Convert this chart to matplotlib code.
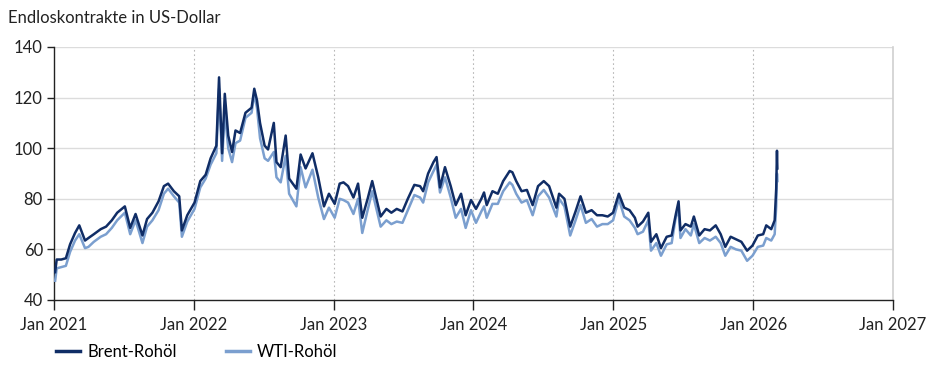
import matplotlib
matplotlib.use("Agg")
import matplotlib.pyplot as plt
import matplotlib.dates as mdates
import pandas as pd

plt.rcParams['font.family'] = ['Lato', 'DejaVu Sans']

dates = [
    "2021-01-04", "2021-01-08", "2021-01-20", "2021-02-01", "2021-02-12", "2021-02-25",
    "2021-03-08", "2021-03-23", "2021-04-01", "2021-04-15", "2021-05-03", "2021-05-17",
    "2021-06-01", "2021-06-15", "2021-07-05", "2021-07-19", "2021-08-02", "2021-08-20",
    "2021-09-01", "2021-09-15", "2021-10-01", "2021-10-15", "2021-10-26", "2021-11-10",
    "2021-11-24", "2021-12-01", "2021-12-15",
    "2022-01-03", "2022-01-18", "2022-02-01", "2022-02-14", "2022-03-01", "2022-03-08",
    "2022-03-16", "2022-03-23", "2022-04-01", "2022-04-11", "2022-04-20", "2022-05-02",
    "2022-05-16", "2022-06-01", "2022-06-08", "2022-06-15", "2022-06-23", "2022-07-05",
    "2022-07-14", "2022-07-29", "2022-08-05", "2022-08-16", "2022-08-29", "2022-09-07",
    "2022-09-26", "2022-10-07", "2022-10-20", "2022-11-07", "2022-11-22", "2022-12-07",
    "2022-12-20",
    "2023-01-04", "2023-01-17", "2023-01-27", "2023-02-08", "2023-02-22", "2023-03-06",
    "2023-03-17", "2023-03-31", "2023-04-12", "2023-04-26", "2023-05-04", "2023-05-19",
    "2023-06-01", "2023-06-15", "2023-06-30", "2023-07-14", "2023-07-31", "2023-08-15",
    "2023-08-23", "2023-09-05", "2023-09-19", "2023-09-27", "2023-10-06", "2023-10-19",
    "2023-11-03", "2023-11-16", "2023-11-30", "2023-12-12", "2023-12-26",
    "2024-01-08", "2024-01-22", "2024-01-29", "2024-02-05", "2024-02-20", "2024-03-05",
    "2024-03-19", "2024-04-05", "2024-04-12", "2024-04-22", "2024-05-06", "2024-05-20",
    "2024-06-04", "2024-06-18", "2024-07-03", "2024-07-17", "2024-08-05", "2024-08-12",
    "2024-08-26", "2024-09-10", "2024-09-24", "2024-10-07", "2024-10-21", "2024-11-05",
    "2024-11-19", "2024-12-03", "2024-12-17", "2024-12-31",
    "2025-01-15", "2025-01-29", "2025-02-12", "2025-02-26", "2025-03-05", "2025-03-19",
    "2025-04-02", "2025-04-09", "2025-04-23", "2025-05-05", "2025-05-20", "2025-06-02",
    "2025-06-13", "2025-06-20", "2025-06-25", "2025-07-08", "2025-07-22", "2025-07-30",
    "2025-08-13", "2025-08-27", "2025-09-10", "2025-09-25", "2025-10-08", "2025-10-20",
    "2025-11-03", "2025-11-17", "2025-12-01", "2025-12-16", "2025-12-30",
    "2026-01-13", "2026-01-27", "2026-02-04", "2026-02-17", "2026-02-26", "2026-03-02",
    "2026-03-04", "2026-03-05",
]

brent = [
    51.0, 56.0, 56.0, 56.5, 62.0, 66.5,
    69.5, 63.5, 64.5, 66.0, 68.0, 69.0,
    71.5, 74.5, 77.0, 68.5, 74.0, 65.5,
    72.0, 74.5, 79.0, 85.0, 86.0, 83.0,
    81.0, 67.5, 73.5,
    78.5, 87.0, 89.5, 96.0, 101.0, 128.0,
    98.0, 121.5, 105.0, 98.5, 107.0, 106.0,
    114.0, 116.0, 123.5, 119.0, 110.0, 101.0,
    99.5, 110.0, 94.5, 92.5, 105.0, 88.0,
    84.0, 97.5, 92.0, 98.0, 88.5, 77.0,
    82.0,
    78.0, 86.0, 86.5, 85.0, 80.5, 86.0,
    72.5, 80.0, 87.0, 78.0, 73.0, 76.0,
    74.5, 76.0, 75.0, 80.0, 85.5, 85.0,
    83.0, 90.0, 94.5, 96.5, 84.5, 92.5,
    85.0, 77.5, 82.0, 73.5, 79.5,
    76.0, 80.0, 82.5, 77.5, 83.0, 82.0,
    87.0, 91.0, 90.5, 87.0, 83.0, 83.5,
    77.5, 85.0, 87.0, 85.0, 76.5, 82.0,
    80.0, 69.0, 75.0, 81.0, 74.5, 75.5,
    73.5, 73.5, 73.0, 74.5,
    82.0, 76.5, 75.5, 72.5, 69.0, 71.0,
    74.5, 63.0, 66.0, 60.5, 65.0, 65.5,
    74.0, 79.0, 67.5, 70.0, 69.0, 73.0,
    65.5, 68.0, 67.5, 69.5, 66.0, 61.0,
    65.0, 64.0, 63.0, 59.5, 61.5,
    65.5, 66.0, 69.5, 68.0, 71.5, 84.0,
    99.0, 92.0,
]

wti = [
    47.6, 52.5, 53.0, 53.5, 59.0, 63.5,
    66.0, 60.5, 61.0, 63.0, 65.0, 66.0,
    68.5, 71.5, 74.5, 66.0, 71.5, 62.5,
    69.0, 71.5, 75.5, 82.0, 84.0, 81.0,
    78.5, 65.0, 71.0,
    76.0, 84.5, 88.0, 93.5, 98.0, 123.5,
    95.0, 114.5, 100.0, 94.5, 102.0, 103.0,
    112.0, 114.0, 121.5, 116.0, 104.0, 96.0,
    95.0, 98.5, 88.5, 86.5, 97.0, 82.0,
    77.0, 92.5, 84.5, 91.5, 80.5, 72.0,
    76.5,
    72.5, 80.0, 79.5, 78.5, 74.0, 80.0,
    66.5, 75.5, 83.0, 74.0, 69.0, 71.5,
    70.0, 71.0, 70.5, 75.5, 81.5, 80.5,
    78.5, 86.5, 91.0, 93.5, 82.5, 88.5,
    80.5, 72.5, 76.0, 68.5, 75.5,
    70.5, 75.0, 77.0, 72.5, 78.0, 78.0,
    83.0, 86.5, 85.5, 82.0, 78.5, 79.5,
    73.5, 81.0, 83.5, 80.5, 73.0, 80.0,
    77.0, 65.5, 71.5, 77.5, 70.5, 72.0,
    69.0, 70.0, 70.0, 71.5,
    80.0, 73.0, 71.5, 68.5, 66.0, 67.0,
    71.5, 59.5, 62.5, 57.5, 62.0, 62.5,
    73.0, 75.0, 64.5, 68.0, 65.5, 70.0,
    62.5, 64.5, 63.5, 65.0, 62.5, 57.5,
    61.0, 60.0, 59.5, 55.5, 57.5,
    61.0, 61.5, 64.5, 63.5, 66.0, 77.0,
    90.0, 87.0,
]

y_ticks = [40, 60, 80, 100, 120, 140]
x_tick_labels = ["Jan 2021", "Jan 2022", "Jan 2023", "Jan 2024", "Jan 2025", "Jan 2026", "Jan 2027"]
series_labels = ["Brent-Rohöl", "WTI-Rohöl"]
title = "Endloskontrakte in US-Dollar"

x = pd.to_datetime(dates)

fig = plt.figure(figsize=(9.29, 3.73), dpi=100)
ax = fig.add_axes([54 / 929, 1 - 300 / 373, (893 - 54) / 929, (300 - 47) / 373])

c_brent = "#102d66"
c_wti = "#7b9fcf"

ax.plot(x, wti, color=c_wti, lw=1.8, label=series_labels[1], zorder=3)
ax.plot(x, brent, color=c_brent, lw=1.8, label=series_labels[0], zorder=4)

years = pd.to_datetime([f"{y}-01-01" for y in range(2021, 2028)])
ax.set_xlim(years[0], years[-1])
ax.set_ylim(40, 140)
ax.set_xticks(years)
ax.set_xticklabels(x_tick_labels)
ax.set_yticks(y_ticks)

for y in y_ticks[1:]:
    ax.axhline(y, color="#dcdcdc", lw=1.0, zorder=1)
for yr in years[1:-1]:
    ax.axvline(yr, color="#b8b8b8", lw=0.8, ls=(0, (1.5, 2.5)), zorder=1)

ax.spines["top"].set_visible(False)
ax.spines["right"].set_color("#d0d0d0")
ax.spines["right"].set_linewidth(1.2)
ax.spines["left"].set_color("#222222")
ax.spines["bottom"].set_color("#222222")
ax.spines["left"].set_linewidth(1.0)
ax.spines["bottom"].set_linewidth(1.0)

ax.tick_params(axis="both", colors="#222222", labelsize=12, length=5, width=1.0)
ax.tick_params(axis="x", pad=5, length=7)
ax.tick_params(axis="y", pad=3)

fig.text(8 / 929, 1 - 18 / 373, title, fontsize=12, color="#222222", va="center", ha="left")

handles, labels = ax.get_legend_handles_labels()
order = [1, 0]
leg = fig.legend([handles[i] for i in order], [labels[i] for i in order],
                 loc="center left", bbox_to_anchor=(56 / 929, 1 - 352 / 373),
                 ncol=2, frameon=False, fontsize=12, handlelength=1.45,
                 columnspacing=2.9, handletextpad=0.45, borderaxespad=0,
                 borderpad=0)
for line in leg.get_lines():
    line.set_linewidth(2.5)

fig.savefig("out.png", dpi=100)
